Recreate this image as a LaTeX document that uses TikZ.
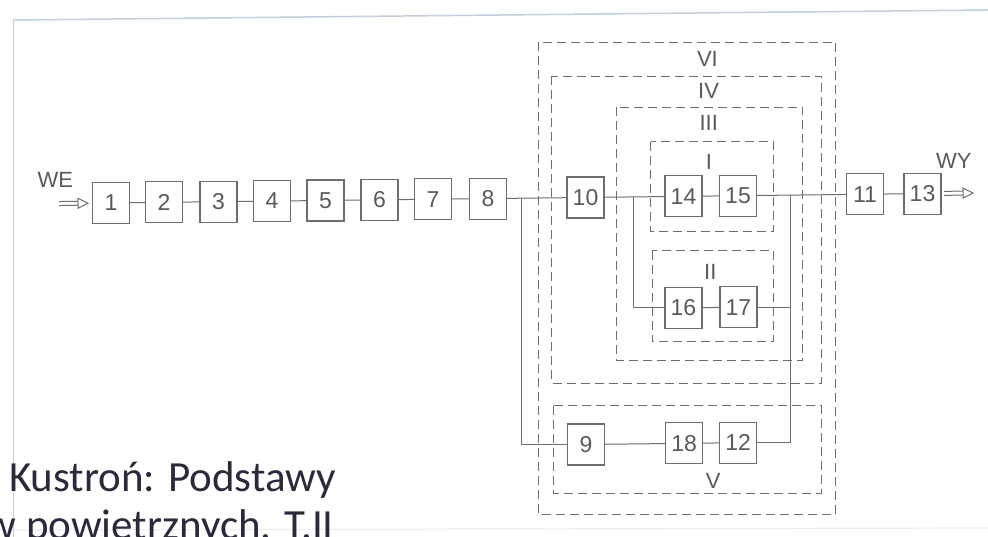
\documentclass[tikz,border=0pt]{standalone}
\usepackage{fontspec}
\setmainfont{Liberation Sans}
\newfontfamily\capfont{Carlito}
\usetikzlibrary{calc}
\definecolor{ln}{HTML}{6E6E6E}
\definecolor{tx}{HTML}{5A5A5A}
\definecolor{frm}{HTML}{C5CFDB}
\definecolor{captx}{HTML}{2A2A3A}
\tikzset{
  blk/.style={draw=ln, line width=1.1pt, minimum width=37pt, minimum height=41pt, inner sep=0pt, text=tx, font=\fontsize{23}{23}\selectfont},
  grp/.style={draw=ln, line width=1.0pt, dash pattern=on 9pt off 5pt},
  grplbl/.style={text=tx, font=\fontsize{22}{22}\selectfont, inner sep=0pt},
  wire/.style={draw=ln, line width=1.0pt},
  captxt/.style={text=captx, font=\capfont\fontsize{43}{43}\selectfont, inner sep=0pt},
}
\begin{document}
\begin{tikzpicture}
\useasboundingbox (0pt,0pt) rectangle (988pt,-537pt);
\fill[white] (0pt,0pt) rectangle (988pt,-537pt);
% screen frame
\draw[frm, line width=1.5pt] (13.5pt,-537pt) -- (13.5pt,-20pt);
\draw[frm, line width=1.5pt] (13.5pt,-20pt) -- (988pt,-10pt);
\draw[frm!35, line width=1.2pt] (0pt,-530pt) -- (988pt,-528pt);
% caption text
\node[captxt, anchor=base west] (cap1) at (9pt,-491pt) {Kustroń: Podstawy};
\node[captxt, anchor=base east] (cap2) at (334pt,-539pt) {w powietrznych. T.II};
\begin{scope}[x={(1pt,0.0115pt)}, y={(0.0042pt,-1pt)}, shift={(-0.83pt,-6.21pt)}]
  % group frames
  \draw[grp] (539,42) rectangle (834,518);
  \draw[grp] (552,76.5) rectangle (821,386.5);
  \draw[grp] (617,108) rectangle (802,364);
  \draw[grp] (651,143) rectangle (773,234.5);
  \draw[grp] (652,252) rectangle (773,344.5);
  \draw[grp] (553,406) rectangle (820,496.5);
  \node[grplbl] (lVI) at (708,61) {VI};
  \node[grplbl] (lIV) at (709,92.5) {IV};
  \node[grplbl] (lIII) at (709,125) {III};
  \node[grplbl] (lI) at (709,164) {I};
  \node[grplbl] (lII) at (710,274) {II};
  \node[grplbl] (lV) at (712,483) {V};
  % blocks
  \node[blk] (b1) at (111,198) {1};
  \node[blk] (b2) at (164,198) {2};
  \node[blk] (b3) at (218.5,198) {3};
  \node[blk] (b4) at (272,198) {4};
  \node[blk] (b5) at (325.5,198) {5};
  \node[blk] (b6) at (379.5,198) {6};
  \node[blk] (b7) at (433,198) {7};
  \node[blk] (b8) at (488,198) {8};
  \node[blk] (b10) at (585.5,198) {10};
  \node[blk] (b14) at (683.5,198) {14};
  \node[blk] (b15) at (738,198) {15};
  \node[blk] (b11) at (865,198) {11};
  \node[blk] (b13) at (922.5,198) {13};
  \node[blk] (b16) at (683,309.5) {16};
  \node[blk] (b17) at (738,309.5) {17};
  \node[blk] (b9) at (585,445) {9};
  \node[blk] (b18) at (683,445) {18};
  \node[blk] (b12) at (737,445) {12};
  % labels WE / WY
  \node[grplbl] (we) at (55.5,174.5) {WE};
  \node[grplbl] (wy) at (954,166) {WY};
  % chain
  \draw[wire] (b1) -- (b2);
  \draw[wire] (b2) -- (b3);
  \draw[wire] (b3) -- (b4);
  \draw[wire] (b4) -- (b5);
  \draw[wire] (b5) -- (b6);
  \draw[wire] (b6) -- (b7);
  \draw[wire] (b7) -- (b8);
  \draw[wire] (b8) -- (b10);
  \draw[wire] (b10) -- (b14);
  \draw[wire] (b14) -- (b15);
  \draw[wire] (b15) -- (b11);
  \draw[wire] (b11) -- (b13);
  \draw[wire] (b16) -- (b17);
  \draw[wire] (b9) -- (b18);
  \draw[wire] (b18) -- (b12);
  % branches
  \coordinate (j1) at (521,198);
  \coordinate (j2) at (633.5,198);
  \coordinate (j3) at (790,198);
  \draw[wire] (j1) |- (b9);
  \draw[wire] (j2) |- (b16);
  \draw[wire] (j3) |- (b12);
  \draw[wire] (b17) -- (b17 -| j3);
  % input arrow
  \coordinate (weS) at (59,198);
  \coordinate (weB) at (78,198);
  \coordinate (weT) at (88,198);
  \draw[wire] ($(weS)+(0,-2)$) -- ($(weB)+(0,-2)$);
  \draw[wire] ($(weS)+(0,2)$) -- ($(weB)+(0,2)$);
  \draw[wire, fill=white] ($(weB)+(0,-5)$) -- (weT) -- ($(weB)+(0,5)$) -- cycle;
  % output arrow
  \coordinate (wyS) at (944,198);
  \coordinate (wyB) at (963,198);
  \coordinate (wyT) at (973,198);
  \draw[wire] ($(wyS)+(0,-2)$) -- ($(wyB)+(0,-2)$);
  \draw[wire] ($(wyS)+(0,2)$) -- ($(wyB)+(0,2)$);
  \draw[wire, fill=white] ($(wyB)+(0,-5)$) -- (wyT) -- ($(wyB)+(0,5)$) -- cycle;
\end{scope}
\end{tikzpicture}
\end{document}
